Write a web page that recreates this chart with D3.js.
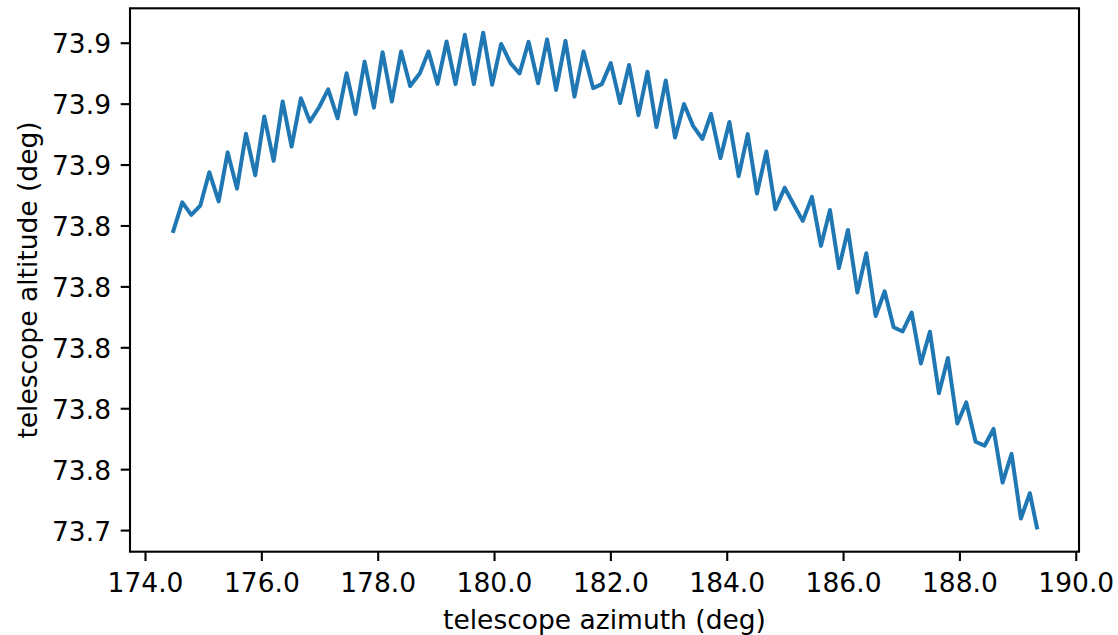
<!DOCTYPE html>
<html>
<head>
<meta charset="utf-8">
<script src="https://cdn.jsdelivr.net/npm/d3@7"></script>
<style>
  html, body { margin: 0; padding: 0; background: #ffffff; }
  svg { display: block; }
  text { font-family: "DejaVu Sans", sans-serif; fill: #000; }
</style>
</head>
<body>
<svg id="chart" width="1118" height="635"></svg>
<script>
// ---- data ----
const azimuth = [
  174.476, 174.641, 174.795, 174.950, 175.105, 175.266, 175.421, 175.581, 175.735, 175.895,
  176.050, 176.211, 176.366, 176.520, 176.680, 176.835, 176.995, 177.149, 177.311, 177.465,
  177.620, 177.775, 177.935, 178.084, 178.244, 178.402, 178.558, 178.725, 178.874, 179.029,
  179.184, 179.338, 179.498, 179.653, 179.813, 179.967, 180.122, 180.283, 180.438, 180.594,
  180.758, 180.912, 181.067, 181.228, 181.383, 181.538, 181.703, 181.852, 182.007, 182.167,
  182.321, 182.483, 182.637, 182.792, 182.952, 183.112, 183.266, 183.421, 183.582, 183.730,
  183.892, 184.046, 184.206, 184.361, 184.520, 184.682, 184.837, 184.996, 185.151, 185.306,
  185.465, 185.620, 185.775, 185.929, 186.084, 186.246, 186.400, 186.560, 186.715, 186.869,
  187.024, 187.179, 187.338, 187.493, 187.648, 187.802, 187.964, 188.118, 188.278, 188.433,
  188.587, 188.742, 188.897, 189.057, 189.211, 189.340
];
const altitude = [
  73.8376, 73.8476, 73.8435, 73.8465, 73.8575, 73.8479, 73.8640, 73.8521, 73.8701, 73.8565,
  73.8758, 73.8612, 73.8807, 73.8659, 73.8818, 73.8741, 73.8789, 73.8847, 73.8752, 73.8900,
  73.8766, 73.8938, 73.8787, 73.8969, 73.8807, 73.8971, 73.8858, 73.8900, 73.8971, 73.8865,
  73.9004, 73.8864, 73.9026, 73.8864, 73.9033, 73.8862, 73.8996, 73.8933, 73.8899, 73.9003,
  73.8867, 73.9011, 73.8845, 73.9006, 73.8823, 73.8971, 73.8851, 73.8864, 73.8933, 73.8802,
  73.8927, 73.8762, 73.8905, 73.8723, 73.8876, 73.8689, 73.8799, 73.8727, 73.8684, 73.8766,
  73.8621, 73.8740, 73.8562, 73.8700, 73.8505, 73.8643, 73.8453, 73.8524, 73.8469, 73.8415,
  73.8494, 73.8333, 73.8451, 73.8260, 73.8385, 73.8180, 73.8309, 73.8103, 73.8184, 73.8066,
  73.8052, 73.8114, 73.7947, 73.8051, 73.7849, 73.7965, 73.7750, 73.7819, 73.7690, 73.7677,
  73.7732, 73.7556, 73.7650, 73.7438, 73.7521, 73.7402
];
const xTicks = [174, 176, 178, 180, 182, 184, 186, 188, 190];
const yTicks = [73.74, 73.76, 73.78, 73.80, 73.82, 73.84, 73.86, 73.88, 73.90];
const xLimits = [173.742, 190.056];
const yLimits = [73.7329, 73.9113];
const xLabel = "telescope azimuth (deg)";
const yLabel = "telescope altitude (deg)";

// ---- layout ----
const frame = { left: 130, right: 1079, top: 8.3, bottom: 551.7 };
const fontSize = 26.5;
const tickLen = 9.3;

const svg = d3.select("#chart");
const x = d3.scaleLinear().domain(xLimits).range([frame.left, frame.right]);
const y = d3.scaleLinear().domain(yLimits).range([frame.bottom, frame.top]);

const fmt = d3.format(".1f");

// line
const points = azimuth.map((a, i) => [a, altitude[i]]);
svg.append("path")
  .datum(points)
  .attr("fill", "none")
  .attr("stroke", "#1f77b4")
  .attr("stroke-width", 4)
  .attr("stroke-linejoin", "round")
  .attr("stroke-linecap", "butt")
  .attr("d", d3.line().x(d => x(d[0])).y(d => y(d[1])));

// x axis
const gx = svg.append("g")
  .attr("transform", `translate(0,${frame.bottom})`)
  .call(d3.axisBottom(x).tickValues(xTicks).tickFormat(fmt).tickSize(tickLen).tickSizeOuter(0));
gx.select(".domain").remove();
gx.selectAll(".tick line").attr("stroke", "#000").attr("stroke-width", 2.1);
gx.selectAll(".tick text")
  .attr("y", 40).attr("dy", null)
  .style("font-size", fontSize + "px")
  .style("font-family", "'DejaVu Sans', sans-serif")
  .attr("fill", "#000");

// y axis
const gy = svg.append("g")
  .attr("transform", `translate(${frame.left},0)`)
  .call(d3.axisLeft(y).tickValues(yTicks).tickFormat(fmt).tickSize(tickLen).tickSizeOuter(0));
gy.select(".domain").remove();
gy.selectAll(".tick line").attr("stroke", "#000").attr("stroke-width", 2.1);
gy.selectAll(".tick text")
  .attr("x", -19).attr("dy", null).attr("y", 10)
  .style("font-size", fontSize + "px")
  .style("font-family", "'DejaVu Sans', sans-serif")
  .attr("fill", "#000");

// frame
svg.append("rect")
  .attr("x", frame.left).attr("y", frame.top)
  .attr("width", frame.right - frame.left)
  .attr("height", frame.bottom - frame.top)
  .attr("fill", "none")
  .attr("stroke", "#000")
  .attr("stroke-width", 2.1);

// axis labels
svg.append("text")
  .attr("x", (frame.left + frame.right) / 2)
  .attr("y", 629)
  .attr("text-anchor", "middle")
  .style("font-size", fontSize + "px")
  .text(xLabel);

svg.append("text")
  .attr("transform", `translate(37,${(frame.top + frame.bottom) / 2}) rotate(-90)`)
  .attr("text-anchor", "middle")
  .style("font-size", fontSize + "px")
  .text(yLabel);
</script>
</body>
</html>
